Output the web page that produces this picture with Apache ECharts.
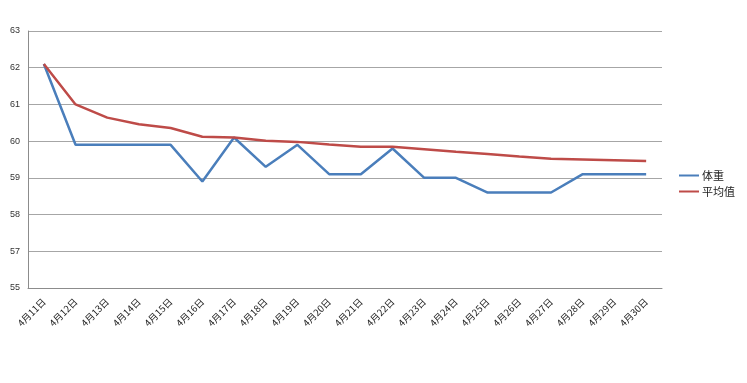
<!DOCTYPE html>
<html><head><meta charset="utf-8">
<script src="https://cdn.jsdelivr.net/npm/echarts@6/dist/echarts.min.js"></script>
<style>html,body{margin:0;padding:0;background:#fff}#c{width:747px;height:383px}</style>
</head><body><div id="c"></div>
<script>
const categories = ['4月11日','4月12日','4月13日','4月14日','4月15日','4月16日','4月17日','4月18日','4月19日','4月20日','4月21日','4月22日','4月23日','4月24日','4月25日','4月26日','4月27日','4月28日','4月29日','4月30日'];
const weight = [62.1,59.9,59.9,59.9,59.9,58.9,60.1,59.3,59.9,59.1,59.1,59.8,59.0,59.0,58.6,58.6,58.6,59.1,59.1,59.1];
const average = [62.1,61.0,60.64,60.46,60.36,60.12,60.10,60.01,59.98,59.91,59.85,59.85,59.78,59.71,59.65,59.58,59.52,59.50,59.48,59.46];
const yTickLabels = ['55','57','58','59','60','61','62','63'];
const seriesNames = ['体重','平均值'];

const chart = echarts.init(document.getElementById('c'));
chart.setOption({
  backgroundColor:'#fff',
  animation:false,
  grid:{left:28,right:85,top:31,bottom:95,containLabel:false},
  legend:{
    orient:'vertical', left:674, top:165, itemGap:5,
    icon:'rect', itemWidth:20, itemHeight:2, itemStyle:{borderWidth:0},
    textStyle:{fontSize:11,color:'#222',padding:[0,0,0,-2],fontFamily:'"Noto Sans CJK SC", sans-serif'},
    data:seriesNames
  },
  xAxis:{
    type:'category', data:categories, boundaryGap:true,
    axisLine:{show:true,lineStyle:{color:'#8c8c8c',width:1}},
    axisTick:{show:false},
    axisLabel:{rotate:45,fontSize:9.5,color:'#222',margin:12,interval:0,fontFamily:'"Noto Sans CJK SC", sans-serif'},
    splitLine:{show:false}
  },
  yAxis:{
    type:'value', min:56, max:63, interval:1,
    axisLine:{show:true,lineStyle:{color:'#8c8c8c',width:1}},
    axisTick:{show:false},
    axisLabel:{fontSize:9,color:'#333',margin:8,formatter:v=>yTickLabels[Math.round(v-56)],fontFamily:'Liberation Sans, sans-serif'},
    splitLine:{show:true,lineStyle:{color:'#a6a6a6',width:1}}
  },
  series:[
    {name:seriesNames[0],type:'line',data:weight,symbol:'none',lineStyle:{color:'#4a7ebb',width:2.5},itemStyle:{color:'#4a7ebb'},z:2},
    {name:seriesNames[1],type:'line',data:average,symbol:'none',lineStyle:{color:'#be4b48',width:2.5},itemStyle:{color:'#be4b48'},z:3}
  ]
});
</script></body></html>
